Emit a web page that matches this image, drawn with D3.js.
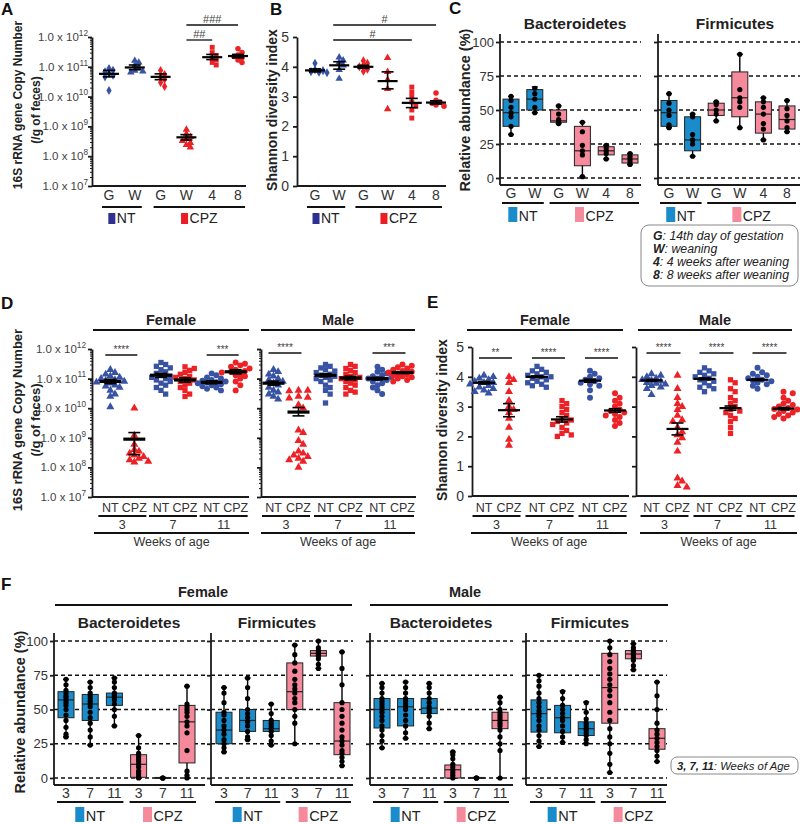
<!DOCTYPE html>
<html><head><meta charset="utf-8">
<script src="https://cdn.jsdelivr.net/npm/d3@7"></script>
<style>body{margin:0;background:#fff}</style>
</head><body><script>
// ================= DATA =================
// Panel A: 16S copy number (log) by time point
const A_time = ["G","W","G","W","4","8"];
const A_treat = ["NT","NT","CPZ","CPZ","CPZ","CPZ"];
const A_points = [
  [1.6e10, 4.6e10, 5.2e10, 6e10, 6.8e10, 7.6e10, 8.8e10],
  [6.5e10, 7e10, 7.5e10, 9e10, 1.1e11, 1.4e11, 1.6e11],
  [2.2e10, 3e10, 3.8e10, 4.5e10, 5.5e10, 7.5e10],
  [2e8, 2.4e8, 2.8e8, 3.3e8, 3.8e8, 4.5e8, 5.5e8, 7.8e8],
  [1.15e11, 1.4e11, 1.7e11, 2e11, 2.4e11, 3e11, 4.5e11],
  [1.4e11, 1.7e11, 2e11, 2.2e11, 2.5e11, 3e11, 4e11]
];
const A_mean = [5.8e10, 9.5e10, 4.6e10, 4.3e8, 2.1e11, 2.3e11];
const A_lo   = [4.6e10, 8e10, 3.7e10, 3.5e8, 1.75e11, 2e11];
const A_hi   = [7.6e10, 1.15e11, 5.8e10, 5.3e8, 2.6e11, 2.6e11];
const logTicks = [1e7, 1e8, 1e9, 1e10, 1e11, 1e12];

// Panel B: Shannon index by time point
const B_points = [
  [3.8, 3.82, 3.84, 3.87, 3.9, 4.12],
  [3.6, 3.9, 4.05, 4.15, 4.22, 4.32],
  [3.85, 3.92, 4.0, 4.05, 4.12, 4.2],
  [2.58, 3.26, 3.56, 3.83, 4.3],
  [2.28, 2.55, 2.68, 2.82, 3.0, 3.15, 3.32],
  [2.68, 2.72, 2.78, 2.82, 2.88, 3.12]
];
const B_mean = [3.88, 4.05, 4.0, 3.52, 2.79, 2.8];
const B_lo   = [3.83, 3.92, 3.95, 3.26, 2.63, 2.75];
const B_hi   = [3.93, 4.17, 4.05, 3.83, 2.94, 2.86];

// Panel C: relative abundance boxes [min, q1, median, q3, max]
const C_bact_stats = [[32,38,48,58,60],[48,50,58,65,67],[40,41,42,50,53],[1,9,20,38,41],[14,17,20,23,24],[10,11,14,17,18]];
const C_bact_pts = [[32,38,45,48,52,57,60],[48,52,58,62,66],[40,41,43,47,53],[1,17,20,24,34,41],[14,18,20,22,24],[10,12,14,16,18]];
const C_firm_stats = [[37,38,48,57,62],[16,20,28,45,47],[42,46,50,55,56],[37,45,59,78,91],[28,33,47,56,59],[34,36,43,53,57]];
const C_firm_pts = [[37,39,46,50,55,62],[16,25,28,32,45,47],[42,47,50,54,56],[37,52,56,59,65,91],[28,36,40,47,52,56,59],[34,37,42,46,51,57]];
const C_legend = [["G",": 14th day of gestation"],["W",": weaning"],["4",": 4 weeks after weaning"],["8",": 8 weeks after weaning"]];

// Panels D/E: by weeks of age
const DE_week  = ["3","3","7","7","11","11"];
const DE_treat = ["NT","CPZ","NT","CPZ","NT","CPZ"];
const DE_weeks = ["3","7","11"];
const D_female_pts = [
  [1.1e10, 2.5e10, 3e10, 4e10, 5e10, 5.5e10, 6e10, 7e10, 7.5e10, 8e10, 8.5e10, 9e10, 1e11, 1.1e11, 1.2e11, 1.4e11, 1.6e11, 2e11],
  [1e10, 1.2e9, 6e8, 4e8, 3.5e8, 3e8, 2.6e8, 2.3e8, 2e8, 1.8e8, 1.6e8, 1.5e8],
  [3e10, 4e10, 5e10, 6e10, 7e10, 8e10, 9e10, 1e11, 1.1e11, 1.2e11, 1.3e11, 1.5e11, 1.7e11, 2e11, 2.3e11, 2.6e11, 3e11, 3.5e11],
  [2.5e10, 3e10, 4e10, 5e10, 6e10, 7e10, 8e10, 9e10, 1e11, 1.1e11, 1.2e11, 1.4e11, 1.6e11, 1.9e11, 2.2e11, 2.5e11],
  [4e10, 4.5e10, 5e10, 5.5e10, 6e10, 6.5e10, 7e10, 7.2e10, 7.5e10, 8e10, 8.5e10, 9e10, 1e11, 1.1e11, 1.3e11, 1.5e11],
  [4e10, 6e10, 8e10, 1e11, 1.2e11, 1.3e11, 1.5e11, 1.6e11, 1.7e11, 1.8e11, 2e11, 2.2e11, 2.5e11, 2.8e11, 3.2e11, 3.5e11]
];
const D_female_mean = [8e10, 9e8, 1.3e11, 9e10, 7.5e10, 1.7e11];
const D_female_lo   = [6.8e10, 2.7e8, 1.1e11, 7.6e10, 6.7e10, 1.45e11];
const D_female_hi   = [9.4e10, 1.5e9, 1.5e11, 1.06e11, 8.4e10, 2e11];
const D_male_pts = [
  [2e10, 2.5e10, 3e10, 3.5e10, 4e10, 5e10, 6e10, 7e10, 8e10, 9e10, 1e11, 1.2e11, 1.4e11, 1.7e11, 2e11],
  [4e10, 4e10, 3.8e10, 2.5e10, 2.3e10, 2.2e10, 1.3e10, 1e10, 1.8e9, 1.5e9, 8e8, 6e8, 3.5e8, 3e8, 2.6e8, 2.3e8, 2e8, 1.8e8, 1.6e8, 1e8],
  [1.5e10, 3e10, 4e10, 5e10, 6e10, 8e10, 9e10, 1e11, 1.1e11, 1.2e11, 1.3e11, 1.4e11, 1.6e11, 1.8e11, 2e11, 2.3e11, 2.6e11, 3e11],
  [3e10, 3.5e10, 4e10, 5e10, 6e10, 7e10, 8e10, 9e10, 1e11, 1.1e11, 1.2e11, 1.4e11, 1.6e11, 1.9e11, 2.2e11, 2.6e11, 3e11],
  [3e10, 4e10, 5e10, 6e10, 7e10, 8e10, 9e10, 1e11, 1e11, 1.1e11, 1.2e11, 1.3e11, 1.5e11, 1.7e11, 2e11, 2.5e11],
  [8e10, 9e10, 1e11, 1.1e11, 1.2e11, 1.3e11, 1.4e11, 1.5e11, 1.6e11, 1.7e11, 1.8e11, 2e11, 2.2e11, 2.4e11, 2.7e11, 3e11]
];
const D_male_mean = [7e10, 7.4e9, 1.3e11, 1.05e11, 1e11, 1.6e11];
const D_male_lo   = [6e10, 5.5e9, 1.15e11, 9e10, 9e10, 1.5e11];
const D_male_hi   = [8.2e10, 1.05e10, 1.47e11, 1.2e11, 1.1e11, 1.7e11];
const D_female_sig = [["****",0,1],["***",4,5]];
const D_male_sig   = [["****",0,1],["***",4,5]];

const E_female_pts = [
  [3.45, 3.5, 3.55, 3.6, 3.65, 3.7, 3.75, 3.8, 3.8, 3.85, 3.9, 3.95, 4.0, 4.05],
  [1.7, 1.9, 2.3, 2.6, 2.8, 2.9, 3.0, 3.2, 3.5, 3.8, 3.9, 4.0],
  [3.65, 3.7, 3.75, 3.8, 3.85, 3.9, 3.95, 4.0, 4.0, 4.05, 4.1, 4.15, 4.2, 4.25, 4.35],
  [2.0, 2.05, 2.1, 2.2, 2.3, 2.4, 2.45, 2.5, 2.55, 2.6, 2.7, 2.8, 2.9, 3.0, 3.1, 3.2],
  [3.3, 3.55, 3.7, 3.75, 3.8, 3.85, 3.9, 3.95, 4.0, 4.1, 4.2],
  [2.35, 2.45, 2.55, 2.65, 2.7, 2.75, 2.8, 2.85, 2.9, 3.0, 3.1, 3.2, 3.3, 3.45]
];
const E_female_mean = [3.8, 2.88, 4.0, 2.57, 3.87, 2.87];
const E_female_lo   = [3.76, 2.66, 3.97, 2.48, 3.82, 2.81];
const E_female_hi   = [3.84, 3.1, 4.03, 2.66, 3.92, 2.93];
const E_male_pts = [
  [3.4, 3.6, 3.65, 3.7, 3.75, 3.78, 3.8, 3.85, 3.88, 3.9, 3.95, 4.0, 4.05, 4.1],
  [0.3, 0.35, 0.5, 0.6, 1.5, 1.8, 1.95, 2.05, 2.15, 2.3, 2.5, 2.55, 2.7, 2.9, 3.0, 3.1, 3.3, 3.6, 4.05],
  [3.5, 3.6, 3.65, 3.7, 3.8, 3.85, 3.9, 3.95, 4.0, 4.05, 4.1, 4.15, 4.2, 4.3],
  [2.1, 2.3, 2.5, 2.6, 2.7, 2.8, 2.85, 2.9, 3.0, 3.1, 3.2, 3.3, 3.5, 3.6, 3.8, 3.9],
  [3.6, 3.7, 3.75, 3.8, 3.85, 3.88, 3.9, 3.95, 4.0, 4.05, 4.1, 4.15, 4.3],
  [2.6, 2.65, 2.7, 2.75, 2.8, 2.85, 2.9, 2.92, 2.95, 3.0, 3.05, 3.1, 3.2, 3.3, 3.45, 3.5]
];
const E_male_mean = [3.88, 2.25, 3.93, 2.95, 3.9, 2.93];
const E_male_lo   = [3.85, 2.05, 3.9, 2.88, 3.87, 2.89];
const E_male_hi   = [3.91, 2.45, 3.96, 3.02, 3.93, 2.97];
const E_female_sig = [["**",0,1],["****",2,3],["****",4,5]];
const E_male_sig   = [["****",0,1],["****",2,3],["****",4,5]];

// Panel F: boxes [min, q1, median, q3, max]
const F_week  = ["3","7","11","3","7","11"];
const F_treat = ["NT","NT","NT","CPZ","CPZ","CPZ"];
const F_fb_stats = [[30,44,57,63,72],[24,42,54,61,70],[38,53,59,62,73],[0,0.5,10,17,31],[0,0,0,0.4,0.5],[0,11,41,53,67]];
const F_fb_pts = [[30,32,37,42,46,50,53,55,57,59,60,62,64,68,72],[24,30,35,40,44,48,52,54,56,58,60,62,66,70],[38,45,50,54,57,59,60,61,62,66,70,73],[0,1,3,5,8,10,12,14,16,18,22,31],[0,0,0],[0,2,5,20,33,38,41,45,48,50,52,54,67]];
const F_ff_stats = [[19,25,35,48,66],[28,34,42,50,73],[24,34,36,42,54],[25,50,63,84,97],[80,89,91,93,100],[9,17,27,55,92]];
const F_ff_pts = [[19,22,25,28,32,35,38,42,46,48,55,62,66],[28,30,34,38,41,44,47,50,58,66,73],[24,27,31,34,36,38,40,42,47,54],[25,40,45,50,55,58,62,65,68,72,78,84,90,97],[80,83,87,89,90,91,92,93,95,100],[9,12,15,18,20,24,27,30,35,40,45,50,55,68,80,92]];
const F_mb_stats = [[22,36.5,50,58,69],[29,38,52,58,70],[36,47,51,58,69],[0,0,6,9.5,19],[0,0,0,0.4,0.5],[0,36,42,48,59]];
const F_mb_pts = [[22,27,31,35,38,42,45,48,50,52,54,56,58,62,66,69],[29,33,38,42,46,50,52,54,56,58,62,66,70],[36,40,45,48,50,52,55,58,62,66,69],[0,2,4,6,8,10,14,17,19],[0,0,0],[0,20,25,30,35,38,40,42,44,46,48,50,55,59]];
const F_mf_stats = [[23,33.5,47,57,75],[26,33,44,53,63.5],[25.5,31,36,41,55.5],[4,40,66,91,100],[79,87,90.5,93,98],[12,21,29,36,70]];
const F_mf_pts = [[23,27,31,35,38,42,45,47,49,52,55,58,62,67,71,75],[26,30,34,38,42,44,47,50,53,58,63],[25,28,31,33,35,36,38,40,43,48,55],[4,10,18,25,30,36,42,48,55,60,64,68,72,76,80,85,90,95,100],[79,82,86,88,90,91,92,93,95,98],[12,16,20,23,26,29,32,35,40,50,60,70]];
const pctTicks = [0, 25, 50, 75, 100];

// ================= STYLE / HELPERS =================
const FONT = '"Liberation Sans", Arial, Helvetica, sans-serif';
const NT_DOT = "#3953A4", CPZ_DOT = "#EC2227";
const NT_LEG = "#2E3192", CPZ_LEG = "#ED1C24";
const NT_BOX = "#1A8CCB", CPZ_BOX = "#F48A9C";
const INK = "#1a1a1a", GREY = "#333";
const shapeOf = {G: d3.symbolDiamond, W: d3.symbolTriangle, "4": d3.symbolSquare, "8": d3.symbolCircle,
                 "3": d3.symbolTriangle, "7": d3.symbolSquare, "11": d3.symbolCircle};

const svg = d3.select("body").append("svg").attr("width", 800).attr("height", 824)
  .style("font-family", FONT).style("background", "#fff");

function txt(x, y, s, o = {}) {
  const t = svg.append("text").attr("x", x).attr("y", y).text(s)
    .attr("font-size", o.size || 12).attr("text-anchor", o.anchor || "middle")
    .attr("fill", o.fill || GREY);
  if (o.bold) t.attr("font-weight", "bold");
  if (o.italic) t.attr("font-style", "italic");
  if (o.rot) t.attr("transform", `rotate(-90,${x},${y})`);
  return t;
}
function ln(x1, y1, x2, y2, w = 1.5, c = INK, dash) {
  const l = svg.append("line").attr("x1", x1).attr("y1", y1).attr("x2", x2).attr("y2", y2)
    .attr("stroke", c).attr("stroke-width", w);
  if (dash) l.attr("stroke-dasharray", dash);
  return l;
}
function legendItem(cx, top, color, label, sw, sh, size) {
  const t = svg.append("text").attr("y", top + sh - 1.5).attr("font-size", size)
    .attr("fill", "#222").attr("text-anchor", "start").text(label);
  const tw = t.node().getComputedTextLength();
  const x0 = cx - (sw + 1.5 + tw) / 2;
  svg.append("rect").attr("x", x0).attr("y", top).attr("width", sw).attr("height", sh).attr("fill", color);
  t.attr("x", x0 + sw + 1.5);
}
function styleAxis(g, w) {
  g.selectAll("path,line").attr("stroke", INK).attr("stroke-width", w || 1.6);
  g.selectAll("text").attr("fill", GREY).attr("font-family", FONT);
}
function logAxis(x, y, labels, size, labelRight) {
  const minors = [];
  for (let e = 7; e < 12; e++) for (let m = 2; m < 10; m++) minors.push(m * Math.pow(10, e));
  const g1 = svg.append("g").attr("transform", `translate(${x},0)`)
    .call(d3.axisLeft(y).tickValues(minors).tickSize(2).tickSizeOuter(0).tickFormat(""));
  g1.select(".domain").remove(); styleAxis(g1, 1);
  const g2 = svg.append("g").attr("transform", `translate(${x},0)`)
    .call(d3.axisLeft(y).tickValues(logTicks).tickSize(4).tickSizeOuter(0).tickFormat(""));
  styleAxis(g2, 1.8);
  if (labels) logTicks.forEach(v => {
    const e = Math.round(Math.log10(v));
    const t = svg.append("text").attr("x", labelRight).attr("y", y(v) + size * 0.35)
      .attr("text-anchor", "end").attr("font-size", size).attr("fill", "#444");
    t.append("tspan").text("1.0 x 10");
    t.append("tspan").attr("dy", -size * 0.45).attr("font-size", size * 0.72).text(e);
  });
}
function linAxis(x, y, ticks, labels, size, pad) {
  const g = svg.append("g").attr("transform", `translate(${x},0)`)
    .call(d3.axisLeft(y).tickValues(ticks).tickSize(4).tickPadding(pad).tickSizeOuter(0)
      .tickFormat(labels ? d3.format("d") : ""));
  g.selectAll("text").attr("font-size", size);
  styleAxis(g, 1.8);
  return g;
}
function dotGroup(xc, y, vals, shape, color, mean, lo, hi, o) {
  const d = o.d;
  const pts = vals.map(v => ({ y: y(v) })).sort((a, b) => a.y - b.y);
  const placed = [];
  pts.forEach(p => {
    for (let k = 0; k < 30; k++) {
      const off = (k === 0 ? 0 : (k % 2 ? 1 : -1) * Math.ceil(k / 2)) * d * 0.8;
      if (placed.every(q => (q.x - off) ** 2 + (q.y - p.y) ** 2 >= (d * 0.85) ** 2)) { p.x = off; break; }
    }
    if (p.x === undefined) p.x = 0;
    placed.push(p);
  });
  svg.append("g").selectAll("path").data(pts).join("path")
    .attr("transform", p => `translate(${xc + p.x},${p.y})`)
    .attr("d", d3.symbol().type(shape).size(o.size)).attr("fill", color);
  ln(xc, y(lo), xc, y(hi), 1.6, "#000");
  ln(xc - o.cw / 2, y(lo), xc + o.cw / 2, y(lo), 1.6, "#000");
  ln(xc - o.cw / 2, y(hi), xc + o.cw / 2, y(hi), 1.6, "#000");
  ln(xc - o.mw / 2, y(mean), xc + o.mw / 2, y(mean), o.mt || 2.4, "#000");
}
function boxGroup(xc, y, st, pts, fill, bw) {
  ln(xc, y(st[0]), xc, y(st[4]), 1.4, "#000");
  ln(xc - 3, y(st[0]), xc + 3, y(st[0]), 1.4, "#000");
  ln(xc - 3, y(st[4]), xc + 3, y(st[4]), 1.4, "#000");
  svg.append("rect").attr("x", xc - bw / 2).attr("y", y(st[3])).attr("width", bw)
    .attr("height", Math.max(1, y(st[1]) - y(st[3]))).attr("fill", fill)
    .attr("stroke", "#222").attr("stroke-width", 1);
  ln(xc - bw / 2, y(st[2]), xc + bw / 2, y(st[2]), 1.2, "#222");
  svg.append("g").selectAll("circle").data(pts).join("circle")
    .attr("cx", xc).attr("cy", v => y(v)).attr("r", 2.6).attr("fill", "#000");
}
function groupBars(x, treat, yLine, padL, padR, legTop, colors, sw, sh, size) {
  ["NT", "CPZ"].forEach(g => {
    const idx = treat.map((t, i) => t === g ? i : -1).filter(i => i >= 0);
    const x1 = x(idx[0]) - padL, x2 = x(idx[idx.length - 1]) + padR;
    ln(x1, yLine, x2, yLine, 2, "#111");
    legendItem((x1 + x2) / 2, legTop, colors[g], g, sw, sh, size);
  });
}
function sig(x1, x2, y, label, size) {
  ln(x1, y, x2, y, 1.3, "#111");
  txt((x1 + x2) / 2, y - 2.5, label, { size: size, fill: "#444" });
}
function boxPanel(o) {
  const y = d3.scaleLinear().domain([0, 100]).range(o.yr);
  const x = d3.scalePoint().domain(d3.range(6)).range(o.xr);
  pctTicks.forEach(v => ln(o.ax, y(v), o.end, y(v), 1.3, "#111", "4,3"));
  const g = linAxis(o.ax, y, pctTicks, o.labels, 13, 2);
  g.select(".domain").remove();
  ln(o.ax, o.top, o.ax, o.base, 1.8);
  ln(o.ax, o.base, o.end, o.base, 1.8);
  o.stats.forEach((st, i) => boxGroup(x(i), y, st, o.pts[i], o.treat[i] === "NT" ? NT_BOX : CPZ_BOX, 16));
  o.cats.forEach((c, i) => txt(x(i), o.labY, c, { size: 14 }));
  groupBars(x, o.treat, o.grpY, 9, 9, o.legTop, { NT: NT_BOX, CPZ: CPZ_BOX }, 9, 15, o.legSize);
  txt(o.titleX, o.titleY, o.title, { size: 15.5, bold: true, fill: "#222" });
}
function weekDotPanel(o) {
  const outer = d3.scaleBand().domain(DE_weeks).range(o.band);
  const inner = d3.scalePoint().domain(["NT", "CPZ"]).range([-o.half, o.half]);
  const xs = i => outer(DE_week[i]) + outer.bandwidth() / 2 + inner(DE_treat[i]);
  o.pts.forEach((pts, i) => dotGroup(xs(i), o.y, pts, shapeOf[DE_week[i]],
    DE_treat[i] === "NT" ? NT_DOT : CPZ_DOT, o.mean[i], o.lo[i], o.hi[i], o.dot));
  DE_treat.forEach((t, i) => txt(xs(i), 512, t, { size: 12.5 }));
  DE_weeks.forEach(w => {
    const c = outer(w) + outer.bandwidth() / 2;
    ln(c - 24, 516, c + 24, 516, 2, "#111");
    txt(c, 529, w, { size: 12.5 });
  });
  ln(o.wk[0], 533, o.wk[1], 533, 2, "#111");
  txt((o.wk[0] + o.wk[1]) / 2, 546, "Weeks of age", { size: 12.5, fill: "#333" });
  o.sig.forEach(s => sig(xs(s[1]) - 5, xs(s[2]) + 3, o.sigY, s[0], 10));
  ln(o.hdr[0], 330, o.hdr[1], 330, 2, "#111");
  txt((o.hdr[0] + o.hdr[1]) / 2, 325, o.title, { size: 14.5, bold: true, fill: "#222" });
}

// ================= PANEL A =================
txt(1, 15, "A", { size: 17, bold: true, anchor: "start", fill: "#111" });
const yA = d3.scaleLog().domain([1e7, 1e12]).range([186, 37]);
const xA = d3.scalePoint().domain(d3.range(6)).range([109, 238]);
logAxis(92, yA, true, 11.5, 88);
ln(92, 186, 246, 186, 1.8);
A_points.forEach((p, i) => dotGroup(xA(i), yA, p, shapeOf[A_time[i]], A_treat[i] === "NT" ? NT_DOT : CPZ_DOT,
  A_mean[i], A_lo[i], A_hi[i], { d: 5, size: 24, mw: 20, cw: 12, mt: 2.2 }));
A_time.forEach((t, i) => txt(xA(i), 200, t, { size: 14 }));
groupBars(xA, A_treat, 207, 7, 7, 213, { NT: NT_LEG, CPZ: CPZ_LEG }, 7, 11, 14);
txt(22, 105, "16S rRNA gene Copy Number", { size: 12, bold: true, rot: true, fill: "#222" });
txt(39.5, 110, "(/g of feces)", { size: 12, bold: true, rot: true, fill: "#222" });
sig(xA(3), xA(5), 25, "###", 11);
sig(xA(3), xA(4), 40, "##", 11);

// ================= PANEL B =================
txt(270, 15, "B", { size: 17, bold: true, anchor: "start", fill: "#111" });
const yB = d3.scaleLinear().domain([0, 5]).range([186, 37]);
const xB = d3.scalePoint().domain(d3.range(6)).range([315, 436]);
linAxis(297, yB, [0, 1, 2, 3, 4, 5], true, 14, 4);
ln(297, 186, 446, 186, 1.8);
B_points.forEach((p, i) => dotGroup(xB(i), yB, p, shapeOf[A_time[i]], A_treat[i] === "NT" ? NT_DOT : CPZ_DOT,
  B_mean[i], B_lo[i], B_hi[i], { d: 5, size: 24, mw: 20, cw: 12, mt: 2.2 }));
A_time.forEach((t, i) => txt(xB(i), 200, t, { size: 14 }));
groupBars(xB, A_treat, 207, 8, 6, 213, { NT: NT_LEG, CPZ: CPZ_LEG }, 7, 11, 14);
txt(277, 110, "Shannon diversity index", { size: 14, bold: true, rot: true, fill: "#222" });
sig(xB(1) - 6, xB(5), 25, "#", 11);
sig(xB(1) - 6, xB(4), 40, "#", 11);

// ================= PANEL C =================
txt(449, 14, "C", { size: 17, bold: true, anchor: "start", fill: "#111" });
boxPanel({ ax: 500, end: 641, top: 34, base: 185, yr: [178, 42], xr: [511, 630], labels: true,
  stats: C_bact_stats, pts: C_bact_pts, treat: A_treat, cats: A_time, labY: 198, grpY: 203, legTop: 207,
  legSize: 14, title: "Bacteroidetes", titleX: 575, titleY: 29 });
boxPanel({ ax: 658, end: 800, top: 34, base: 185, yr: [178, 42], xr: [669, 787], labels: false,
  stats: C_firm_stats, pts: C_firm_pts, treat: A_treat, cats: A_time, labY: 198, grpY: 203, legTop: 207,
  legSize: 14, title: "Firmicutes", titleX: 735, titleY: 29 });
txt(470, 110, "Relative abundance (%)", { size: 14.5, bold: true, rot: true, fill: "#222" });
svg.append("rect").attr("x", 641).attr("y", 225).attr("width", 157).attr("height", 61).attr("rx", 8)
  .attr("fill", "#fff").attr("stroke", "#888").attr("stroke-width", 1);
C_legend.forEach((r, i) => {
  const t = svg.append("text").attr("x", 653).attr("y", 240 + i * 13).attr("font-size", 12.3)
    .attr("font-style", "italic").attr("fill", "#222");
  t.append("tspan").attr("font-weight", "bold").text(r[0]);
  t.append("tspan").text(r[1]);
});

// ================= PANEL D =================
txt(1, 309, "D", { size: 17, bold: true, anchor: "start", fill: "#111" });
const yDf = d3.scaleLog().domain([1e7, 1e12]).range([497, 349]);
logAxis(92, yDf, true, 11.5, 86);
ln(92, 497, 249, 497, 1.8);
logAxis(261, yDf, false, 11, 0);
ln(261, 497, 416, 497, 1.8);
weekDotPanel({ band: [97, 249], half: 12, y: yDf, pts: D_female_pts, mean: D_female_mean, lo: D_female_lo,
  hi: D_female_hi, dot: { d: 5.8, size: 28, mw: 22, cw: 12, mt: 3.2 }, sig: D_female_sig, sigY: 355,
  hdr: [93, 249], wk: [94, 249], title: "Female" });
weekDotPanel({ band: [260, 416], half: 12.5, y: yDf, pts: D_male_pts, mean: D_male_mean, lo: D_male_lo,
  hi: D_male_hi, dot: { d: 5.8, size: 28, mw: 22, cw: 12, mt: 3.2 }, sig: D_male_sig, sigY: 353,
  hdr: [261, 415], wk: [261, 415], title: "Male" });
txt(22, 420, "16S rRNA gene Copy Number", { size: 13, bold: true, rot: true, fill: "#222" });
txt(39.5, 420, "(/g of feces)", { size: 13, bold: true, rot: true, fill: "#222" });

// ================= PANEL E =================
txt(427, 308, "E", { size: 17, bold: true, anchor: "start", fill: "#111" });
const yE = d3.scaleLinear().domain([0, 5]).range([496, 347]);
linAxis(472, yE, [0, 1, 2, 3, 4, 5], true, 14, 4);
ln(472, 496, 629, 496, 1.8);
linAxis(636, yE, [0, 1, 2, 3, 4, 5], false, 14, 4);
ln(636, 496, 797, 496, 1.8);
weekDotPanel({ band: [470, 629], half: 12.5, y: yE, pts: E_female_pts, mean: E_female_mean, lo: E_female_lo,
  hi: E_female_hi, dot: { d: 5.8, size: 28, mw: 22, cw: 12, mt: 2.2 }, sig: E_female_sig, sigY: 358,
  hdr: [467, 623], wk: [471, 627], title: "Female" });
weekDotPanel({ band: [638, 797], half: 13, y: yE, pts: E_male_pts, mean: E_male_mean, lo: E_male_lo,
  hi: E_male_hi, dot: { d: 5.8, size: 28, mw: 22, cw: 12, mt: 2.2 }, sig: E_male_sig, sigY: 353,
  hdr: [638, 792], wk: [640, 797], title: "Male" });
txt(447, 420, "Shannon diversity index", { size: 14, bold: true, rot: true, fill: "#222" });

// ================= PANEL F =================
txt(1, 590, "F", { size: 17, bold: true, anchor: "start", fill: "#111" });
ln(55, 605, 352, 605, 2, "#111");
txt(203, 597, "Female", { size: 14.5, bold: true, fill: "#222" });
ln(370, 605, 668, 605, 2, "#111");
txt(465, 597, "Male", { size: 14.5, bold: true, fill: "#222" });
const fCommon = { top: 633, base: 785, yr: [778, 641], cats: F_week, treat: F_treat, labY: 798, grpY: 802,
  legTop: 807, legSize: 14.5, titleY: 628 };
boxPanel(Object.assign({}, fCommon, { ax: 54, end: 205, xr: [66, 187], labels: true, stats: F_fb_stats, pts: F_fb_pts, title: "Bacteroidetes", titleX: 129 }));
boxPanel(Object.assign({}, fCommon, { ax: 211, end: 353, xr: [224, 342], labels: false, stats: F_ff_stats, pts: F_ff_pts, title: "Firmicutes", titleX: 277 }));
boxPanel(Object.assign({}, fCommon, { ax: 370, end: 513, xr: [382, 500], labels: false, stats: F_mb_stats, pts: F_mb_pts, title: "Bacteroidetes", titleX: 441 }));
boxPanel(Object.assign({}, fCommon, { ax: 526, end: 667, xr: [539, 657], labels: false, stats: F_mf_stats, pts: F_mf_pts, title: "Firmicutes", titleX: 590 }));
txt(25, 712, "Relative abundance (%)", { size: 14.5, bold: true, rot: true, fill: "#222" });
svg.append("rect").attr("x", 671).attr("y", 757).attr("width", 127).attr("height", 17).attr("rx", 6)
  .attr("fill", "#fff").attr("stroke", "#888").attr("stroke-width", 1);
{
  const t = svg.append("text").attr("x", 677).attr("y", 769.5).attr("font-size", 11.3)
    .attr("font-style", "italic").attr("fill", "#222");
  t.append("tspan").attr("font-weight", "bold").text("3, 7, 11");
  t.append("tspan").text(": Weeks of Age");
}
</script></body></html>
